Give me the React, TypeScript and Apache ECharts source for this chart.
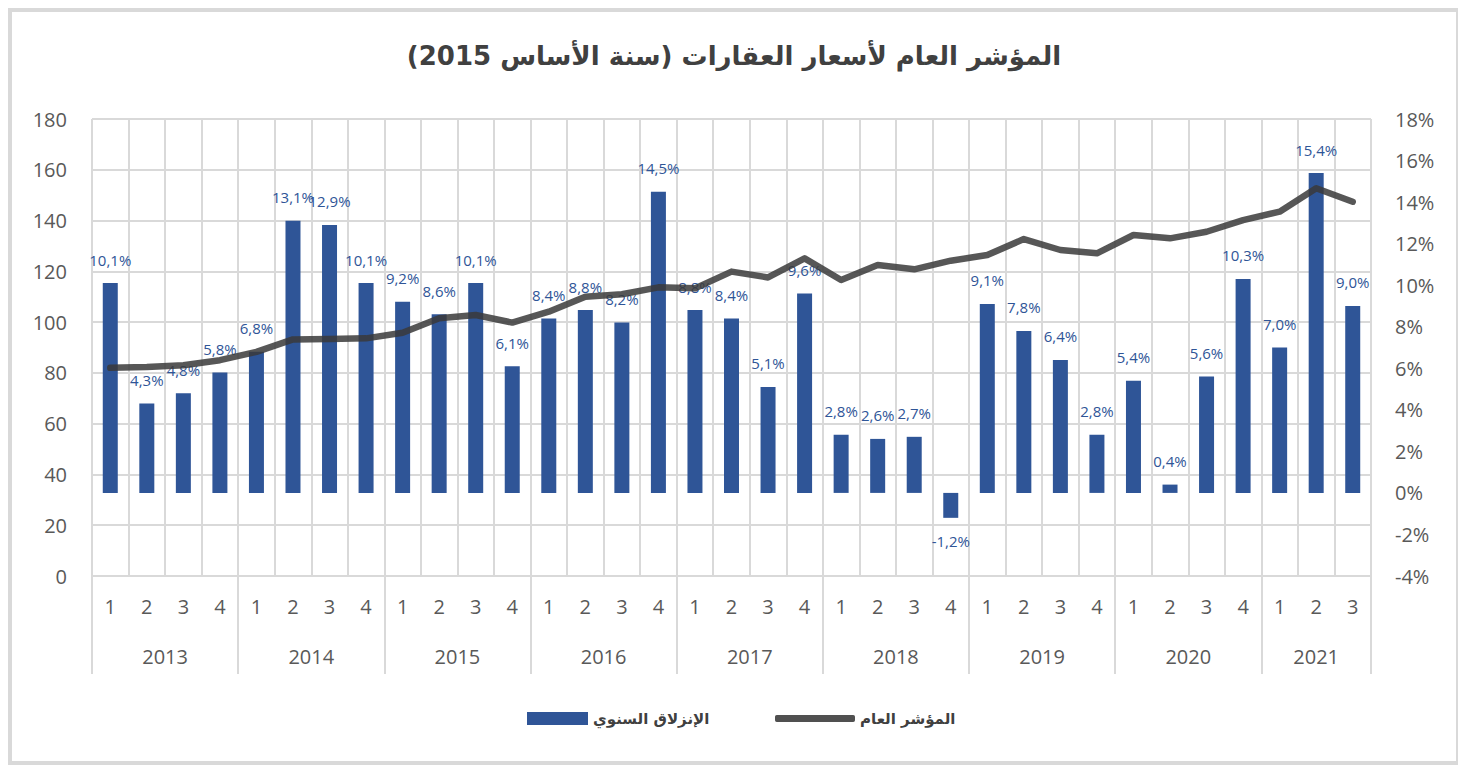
import React, { useEffect, useRef } from "react";
import * as echarts from "echarts";

const titleText = "المؤشر العام لأسعار العقارات (سنة الأساس 2015)";
const barName = "الإنزلاق السنوي";
const lineName = "المؤشر العام";

const years = ["2013", "2014", "2015", "2016", "2017", "2018", "2019", "2020", "2021"];
const quartersPerYear = [4, 4, 4, 4, 4, 4, 4, 4, 3];

// General index (left axis)
const indexValues = [
  82.0, 82.3, 83.0, 85.0,
  88.3, 93.2, 93.3, 93.6,
  95.8, 101.5, 102.8, 99.8,
  104.1, 110.0, 111.0, 113.7,
  113.3, 119.9, 117.6, 125.1,
  116.6, 122.5, 120.8, 124.2,
  126.4, 132.7, 128.4, 127.1,
  134.3, 133.0, 135.6, 140.2,
  143.5, 152.7, 147.4,
];

// Annual change, % (right axis)
const annualChange = [
  10.1, 4.3, 4.8, 5.8,
  6.8, 13.1, 12.9, 10.1,
  9.2, 8.6, 10.1, 6.1,
  8.4, 8.8, 8.2, 14.5,
  8.8, 8.4, 5.1, 9.6,
  2.8, 2.6, 2.7, -1.2,
  9.1, 7.8, 6.4, 2.8,
  5.4, 0.4, 5.6, 10.3,
  7.0, 15.4, 9.0,
];

const leftTicks = { min: 0, max: 180, interval: 20 };
const rightTicks = { min: -4, max: 18, interval: 2 };

export default function App() {
  const ref = useRef<HTMLDivElement>(null);

  useEffect(() => {
    if (!ref.current) return;
    const chart = echarts.init(ref.current, undefined, { renderer: "svg" });

    const quarterLabels: string[] = [];
    const yearStarts = new Set<number>();
    quartersPerYear.forEach((n) => {
      yearStarts.add(quarterLabels.length);
      for (let q = 1; q <= n; q++) quarterLabels.push(String(q));
    });
    const totalQ = quarterLabels.length;

    // half-slot axis for year labels
    const yearSlots: string[] = new Array(totalQ * 2 + 1).fill("");
    let start = 0;
    quartersPerYear.forEach((n, i) => {
      yearSlots[start * 2 + n] = years[i];
      start += n;
    });

    const font = "'Open Sans', 'DejaVu Sans', sans-serif";
    const arFont = "'DejaVu Sans', sans-serif";
    const grid = "#d9d9d9";
    const barColor = "#2f5597";

    chart.setOption({
      animation: false,
      backgroundColor: "#ffffff",
      title: {
        text: titleText,
        left: "center",
        top: 26,
        textStyle: {
          fontFamily: arFont,
          fontSize: 26,
          fontWeight: "bold",
          color: "#404040",
        },
      },
      legend: [
        {
          data: [barName],
          left: 510,
          top: 694,
          itemWidth: 61,
          itemHeight: 13,
          icon: "rect",
          textStyle: { fontFamily: arFont, fontSize: 15, fontWeight: "bold", color: "#404040" },
        },
        {
          data: [lineName],
          left: 758,
          top: 694,
          itemWidth: 80,
          itemHeight: 7,
          icon: "roundRect",
          textStyle: { fontFamily: arFont, fontSize: 15, fontWeight: "bold", color: "#404040" },
        },
      ],
      grid: { left: 80, right: 85, top: 107, bottom: 185, containLabel: false },
      xAxis: [
        {
          type: "category",
          data: quarterLabels,
          boundaryGap: true,
          position: "bottom",
          axisLine: { show: true, lineStyle: { color: grid, width: 2 } },
          axisTick: {
            show: true,
            length: 98,
            interval: (idx: number) => yearStarts.has(idx),
            lineStyle: { color: grid, width: 2 },
          },
          splitLine: { show: true, interval: 0, lineStyle: { color: grid, width: 2 } },
          axisLabel: { interval: 0, margin: 20, fontFamily: font, fontSize: 20, color: "#595959" },
        },
        {
          type: "category",
          data: yearSlots,
          boundaryGap: false,
          position: "bottom",
          offset: 0,
          axisLine: { show: false },
          axisTick: { show: false },
          splitLine: { show: false },
          axisLabel: {
            interval: (idx: number, val: string) => val !== "",
            margin: 70,
            fontFamily: font,
            fontSize: 20,
            color: "#595959",
          },
        },
      ],
      yAxis: [
        {
          type: "value",
          ...leftTicks,
          position: "left",
          axisLine: { show: false },
          axisTick: { show: false },
          splitLine: { show: true, lineStyle: { color: grid, width: 2 } },
          axisLabel: { margin: 25, fontFamily: font, fontSize: 20, color: "#595959" },
        },
        {
          type: "value",
          ...rightTicks,
          position: "right",
          axisLine: { show: false },
          axisTick: { show: false },
          splitLine: { show: false },
          axisLabel: {
            margin: 24,
            fontFamily: font,
            fontSize: 20,
            color: "#595959",
            formatter: (v: number) => `${v}%`,
          },
        },
      ],
      series: [
        {
          name: barName,
          type: "bar",
          xAxisIndex: 0,
          yAxisIndex: 1,
          barWidth: 15,
          itemStyle: { color: barColor },
          label: {
            show: true,
            position: "top",
            distance: 16,
            fontFamily: font,
            fontSize: 15,
            color: "#2f5597",
            formatter: (p: any) => `${Number(p.value).toFixed(1).replace(".", ",")}%`,
          },
          data: annualChange.map((v) =>
            v < 0 ? { value: v, label: { position: "bottom" } } : v
          ),
          z: 2,
        },
        {
          name: lineName,
          type: "line",
          xAxisIndex: 0,
          yAxisIndex: 0,
          symbol: "none",
          data: indexValues,
          lineStyle: { color: "#3a3a3a", width: 6.5, opacity: 0.85, join: "round", cap: "round" },
          itemStyle: { color: "#505050" },
          z: 3,
        },
      ],
    });

    return () => chart.dispose();
  }, []);

  return (
    <div
      style={{
        width: 1452,
        height: 757,
        border: "4px solid #d9d9d9",
        boxSizing: "border-box",
        background: "#ffffff",
      }}
    >
      <div ref={ref} style={{ width: 1444, height: 749 }} />
    </div>
  );
}
